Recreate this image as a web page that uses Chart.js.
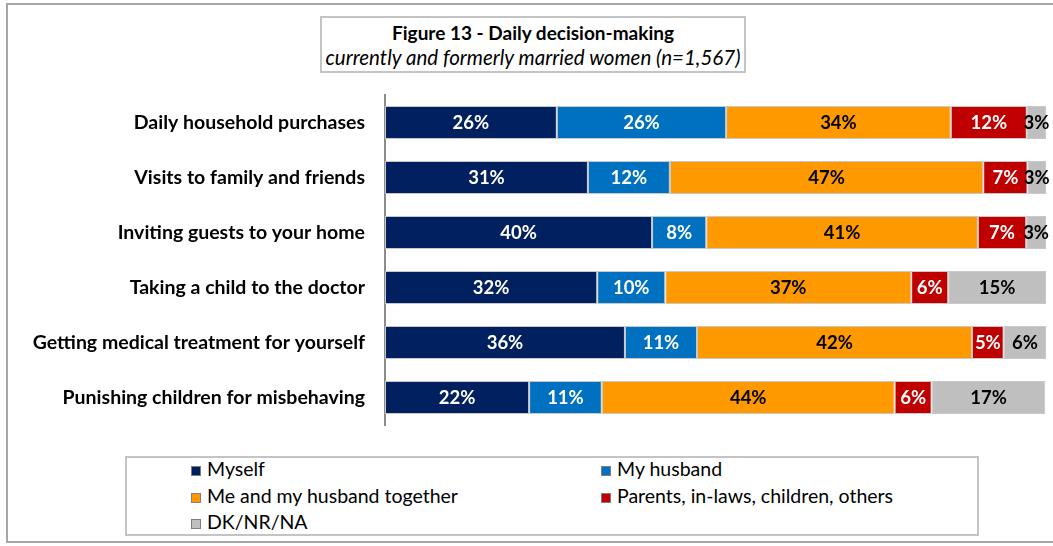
<!DOCTYPE html>
<html>
<head>
<meta charset="utf-8">
<script src="https://cdn.jsdelivr.net/npm/chart.js@4.4.1/dist/chart.umd.min.js"></script>
<style>
  html, body { margin: 0; padding: 0; background: #fff; }
  body { width: 1053px; height: 546px; position: relative; overflow: hidden; font-family: Lato, "Open Sans", sans-serif; }
  .frame { position: absolute; left: 6px; top: 3px; width: 1060px; height: 540px; border: 2px solid #a6a6a6; box-sizing: border-box; }
  #wrap { position: absolute; left: 0; top: 0; width: 1053px; height: 546px; }
  .title-box { position: absolute; left: 320px; top: 16px; width: 426px; height: 57px; border: 2px solid #c4c4c4; box-sizing: border-box; text-align: center; background: #fff; }
  .title-box .t1 { font-weight: bold; font-size: 19px; line-height: 22px; margin-top: 4px; color: #000; }
  .title-box .t2 { font-style: italic; font-size: 20.5px; line-height: 24px; margin-top: 1px; color: #000; }
  .legend { position: absolute; left: 125px; top: 456px; width: 854px; height: 80px; border: 2px solid #c4c4c4; box-sizing: border-box; background: #fff; }
  .legend .item { position: absolute; font-size: 19.5px; color: #000; white-space: nowrap; line-height: 22px; }
  .legend .sw { display: inline-block; width: 10px; height: 10px; border: 1px solid #7f7f7f; margin-right: 6px; vertical-align: 0px; box-sizing: border-box; }
</style>
</head>
<body>
<div class="frame"></div>
<div id="wrap"><canvas id="chart" width="1053" height="546"></canvas></div>
<div class="title-box">
  <div class="t1">Figure 13 - Daily decision-making</div>
  <div class="t2">currently and formerly married women (n=1,567)</div>
</div>
<div class="legend" id="legend"></div>
<script>
const categories = [
  "Daily household purchases",
  "Visits to family and friends",
  "Inviting guests to your home",
  "Taking a child to the doctor",
  "Getting medical treatment for yourself",
  "Punishing children for misbehaving"
];
const seriesNames = [
  "Myself",
  "My husband",
  "Me and my husband together",
  "Parents, in-laws, children, others",
  "DK/NR/NA"
];
const myself = [26, 30.7, 40.4, 32.1, 36.3, 21.8];
const myHusband = [25.6, 12.4, 8.2, 10.3, 10.9, 11.0];
const together = [34.0, 47.4, 41.1, 37.2, 41.6, 44.3];
const others = [11.5, 6.7, 7.3, 5.6, 4.8, 5.6];
const dkNrNa = [2.9, 2.8, 3.0, 14.8, 6.4, 17.2];

const colors = ["#002060", "#0070c0", "#ff9900", "#c00000", "#bfbfbf"];
const labelColors = ["#fff", "#fff", "#000", "#fff", "#000"];
const values = [myself, myHusband, together, others, dkNrNa];

const barLabels = {
  id: "barLabels",
  afterDatasetsDraw(chart) {
    const ctx = chart.ctx;
    ctx.save();
    ctx.font = "bold 18.5px Lato, 'Open Sans', sans-serif";
    ctx.textAlign = "center";
    ctx.textBaseline = "middle";
    chart.data.datasets.forEach((ds, i) => {
      const meta = chart.getDatasetMeta(i);
      meta.data.forEach((bar, j) => {
        const cx = (bar.x + bar.base) / 2;
        ctx.fillStyle = labelColors[i];
        ctx.fillText(Math.round(ds.data[j]) + "%", cx, bar.y + 1);
      });
    });
    ctx.restore();
  }
};

new Chart(document.getElementById("chart"), {
  type: "bar",
  data: {
    labels: categories,
    datasets: seriesNames.map((name, i) => ({
      label: name,
      data: values[i],
      backgroundColor: colors[i],
      borderColor: "#c8c8c8",
      borderWidth: 1,
      borderSkipped: false,
      barPercentage: 0.6,
      categoryPercentage: 1
    }))
  },
  options: {
    indexAxis: "y",
    responsive: false,
    animation: false,
    layout: { padding: { top: 95, bottom: 121, right: 7, left: 0 } },
    plugins: { legend: { display: false }, tooltip: { enabled: false } },
    scales: {
      x: { stacked: true, min: 0, max: 100, display: false },
      y: {
        stacked: true,
        grid: { display: false, drawTicks: false },
        border: { display: true, color: "#8c8c8c", width: 2 },
        ticks: { color: "#000", padding: 20, font: { family: "Lato, 'Open Sans', sans-serif", size: 19.5, weight: "bold" } },
        afterFit(scale) { scale.width = 385; }
      }
    }
  },
  plugins: [barLabels]
});

// HTML legend built from the series
const legend = document.getElementById("legend");
const pos = [[64, 0], [474, 0], [64, 1], [474, 1], [64, 2]];
seriesNames.forEach((name, i) => {
  const el = document.createElement("div");
  el.className = "item";
  el.style.left = pos[i][0] + "px";
  el.style.top = (pos[i][1] * 26.5) + "px";
  el.innerHTML = '<span class="sw" style="background:' + colors[i] + '"></span>';
  el.appendChild(document.createTextNode(name));
  legend.appendChild(el);
});
</script>
</body>
</html>
